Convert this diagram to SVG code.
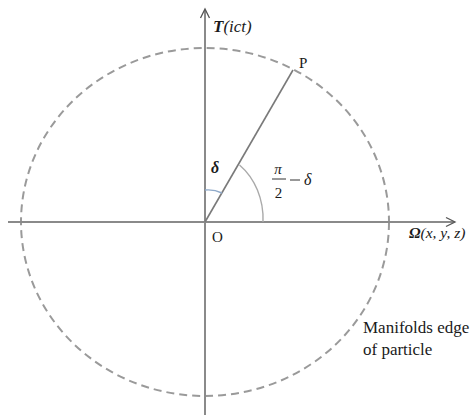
<svg xmlns="http://www.w3.org/2000/svg" width="473" height="415" viewBox="0 0 473 415">
<style>
.ax{stroke:#8a8a8a;stroke-width:2;fill:none}
.hd{stroke:#555;stroke-width:1.3;fill:none}
.edge{stroke:#9a9a9a;stroke-width:2;fill:none;stroke-dasharray:8 5}
.t{font-family:"Liberation Serif",serif;fill:#1a1a1a}
.i{font-style:italic}
.b{font-weight:bold}
</style>
<rect width="473" height="415" fill="#fff"/>
<g id="manifold-edge">
<ellipse class="edge" cx="205" cy="222" rx="184" ry="174"/>
</g>
<g id="connectors">
<line class="ax" x1="8" y1="222" x2="454" y2="222"/>
<polyline class="hd" points="446,217.5 455,222 446,226.5"/>
<line class="ax" x1="205" y1="415" x2="205" y2="10"/>
<polyline class="hd" points="200.5,18 205,9 209.5,18"/>
<line x1="205" y1="222" x2="293" y2="70" stroke="#7a7a7a" stroke-width="1.6"/>
<path d="M205,190 A32 32 0 0 1 222,193" stroke="#8fa9c9" stroke-width="1.4" fill="none"/>
<path d="M239.5,165 A58 67 0 0 1 263,222" stroke="#aaa" stroke-width="1.4" fill="none"/>
</g>
<g id="T-axis"><text class="t" x="213" y="32" font-size="17"><tspan class="i b">T</tspan><tspan class="i">(ict)</tspan></text></g>
<g id="P"><text class="t" x="299" y="68" font-size="15">P</text></g>
<g id="O"><text class="t" x="212" y="242" font-size="15">O</text></g>
<g id="delta"><text class="t i b" x="211" y="173" font-size="16" fill="#1c2742">δ</text></g>
<g id="angle-label">
<text class="t i" x="278" y="174" font-size="15" text-anchor="middle">π</text>
<line x1="272" y1="179" x2="286" y2="179" stroke="#333" stroke-width="1"/>
<text class="t" x="278.5" y="198" font-size="15" text-anchor="middle">2</text>
<line x1="290" y1="180" x2="300" y2="180" stroke="#333" stroke-width="1"/>
<text class="t i" x="304" y="185" font-size="16">δ</text>
</g>
<g id="Omega-axis"><text class="t" x="409" y="238" font-size="15.5"><tspan class="i b">Ω</tspan><tspan class="i">(x, y, z)</tspan></text></g>
<g id="edge-label">
<text class="t" x="363" y="333" font-size="17">Manifolds edge</text>
<text class="t" x="363" y="355" font-size="17">of particle</text>
</g>
</svg>
